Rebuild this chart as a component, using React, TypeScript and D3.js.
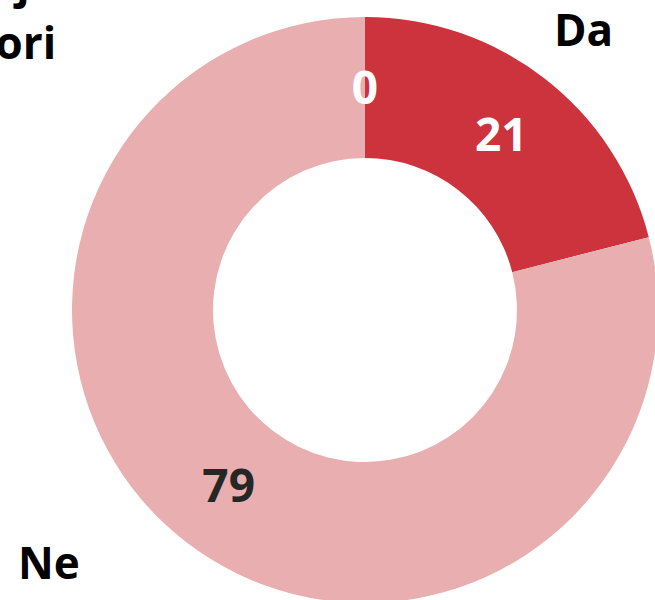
import React from 'react';
import * as d3 from 'd3';

// data
const categories = ['Da', 'Ne', 'Ne zna / odbija|da odgovori'];
const values = [21, 79, 0];
const sliceColors = ['#cc333d', '#e8aeb0', '#e8aeb0'];
const valueTextColors = ['#ffffff', '#262626', '#ffffff'];

// layout
const W = 655;
const H = 600;
const cx = 365;
const cy = 310;
const outerR = 293;
const innerR = 152;
// outer category labels: [angle in degrees, radius, anchor]
const labelPlacement: [number, number, 'start' | 'middle' | 'end'][] = [
  [39.6, 343, 'middle'],
  [229.6, 415, 'middle'],
  [309.1, 398, 'end'],
];
const FONT = '"Open Sans", "Noto Sans", sans-serif';

const App: React.FC = () => {
  const pie = d3.pie<number>().sort(null).value(d => d);
  const arcs = pie(values);
  const arc = d3.arc<d3.PieArcDatum<number>>().innerRadius(innerR).outerRadius(outerR);

  return (
    <svg
      width={W}
      height={H}
      style={{ position: 'fixed', left: 0, top: 0, background: '#fff' }}
      fontFamily={FONT}
      fontWeight={700}
    >
      <g transform={`translate(${cx},${cy})`}>
        {arcs.map((a, i) => (
          <path key={`s-${i}`} d={arc(a) || ''} fill={sliceColors[i]} />
        ))}

        {/* values */}
        {arcs.map((a, i) => {
          const [x, y] = arc.centroid(a);
          return (
            <text
              key={`v-${i}`}
              x={x}
              y={y}
              dy="0.36em"
              textAnchor="middle"
              fontSize={46}
              fill={valueTextColors[i]}
            >
              {values[i]}
            </text>
          );
        })}

        {/* category labels */}
        {categories.map((c, i) => {
          const [deg, r, anchor] = labelPlacement[i];
          const [x, y] = d3.pointRadial((deg * Math.PI) / 180, r);
          const lines = c.split('|');
          return (
            <text key={`c-${i}`} x={x} y={y} textAnchor={anchor} fontSize={44} fill="#000">
              {lines.map((l, j) => (
                <tspan key={j} x={x} dy={j === 0 ? -(lines.length - 1) * 61 : 61}>
                  {l}
                </tspan>
              ))}
            </text>
          );
        })}
      </g>
    </svg>
  );
};

export default App;
